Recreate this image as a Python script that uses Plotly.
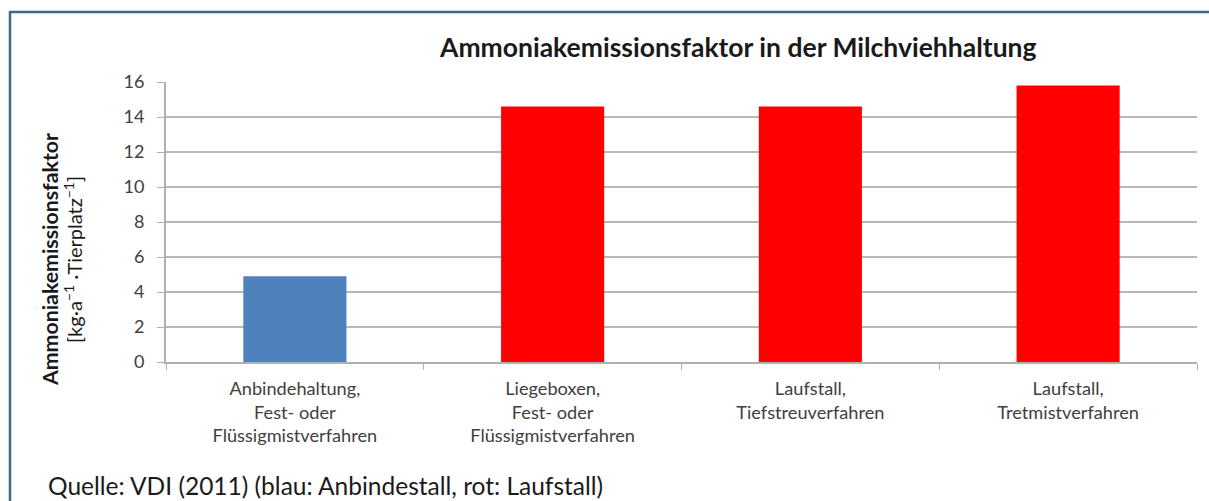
import plotly.graph_objects as go

categories = [
    "Anbindehaltung,<br>Fest- oder<br>Flüssigmistverfahren",
    "Liegeboxen,<br>Fest- oder<br>Flüssigmistverfahren",
    "Laufstall,<br>Tiefstreuverfahren",
    "Laufstall,<br>Tretmistverfahren",
]
values = [4.9, 14.6, 14.6, 15.8]
colors = ["#4f81bd", "#ff0000", "#ff0000", "#ff0000"]
yticks = [0, 2, 4, 6, 8, 10, 12, 14, 16]

FONT = "Lato"
W, H = 1209, 501
L, R, T, B = 166, 12, 82, 139
pw, ph = W - L - R, H - T - B

def px(x):
    return (x - L) / pw

def py(y):
    return (H - B - y) / ph

fig = go.Figure()
fig.add_trace(go.Bar(
    x=categories, y=values, marker=dict(color=colors, line=dict(width=0)),
    width=0.4, hoverinfo="skip",
))

fig.update_layout(
    width=W, height=H,
    margin=dict(l=L, r=R, t=T, b=B),
    paper_bgcolor="white", plot_bgcolor="white",
    showlegend=False,
    font=dict(family=FONT, color="#404040", size=18),
    xaxis=dict(
        type="category", tickson="boundaries", ticks="outside", ticklen=6,
        tickcolor="#b0b0b0", showline=True, linecolor="#b0b0b0", linewidth=2,
        showgrid=False, tickfont=dict(size=18.2, color="#404040"),
        ticklabelstandoff=9,
    ),
    yaxis=dict(
        range=[0, 16], tickvals=yticks, ticks="outside", ticklen=7,
        tickcolor="#b0b0b0", showline=True, linecolor="#b0b0b0", linewidth=2,
        showgrid=True, gridcolor="#b8b8b8", gridwidth=1.5,
        tickfont=dict(size=18, color="#404040"), zeroline=False,
        ticklabelstandoff=9,
    ),
)

fig.add_annotation(
    text="<b>Ammoniakemissionsfaktor in der Milchviehhaltung</b>",
    x=px(738), y=py(47), xref="paper", yref="paper",
    showarrow=False, font=dict(size=26.5, color="#1a1a1a"),
    xanchor="center", yanchor="middle",
)
fig.add_annotation(
    text="<b>Ammoniakemissionsfaktor</b>",
    x=px(50), y=py(260), xref="paper", yref="paper", textangle=-90,
    showarrow=False, font=dict(size=21.3, color="#1a1a1a"),
    xanchor="center", yanchor="middle",
)
fig.add_annotation(
    text="[kg·a<sup>−1</sup> ·Tierplatz<sup>−1</sup>]",
    x=px(73), y=py(260), xref="paper", yref="paper", textangle=-90,
    showarrow=False, font=dict(size=20, color="#1a1a1a"),
    xanchor="center", yanchor="middle",
)
fig.add_annotation(
    text="Quelle: VDI (2011) (blau: Anbindestall, rot: Laufstall)",
    x=px(46), y=py(485), xref="paper", yref="paper",
    showarrow=False, font=dict(size=24.5, color="#1a1a1a"),
    xanchor="left", yanchor="middle",
)

border = "#3e6884"
fig.add_shape(type="line", xref="paper", yref="paper",
              x0=px(9), x1=px(1215), y0=py(12), y1=py(12),
              line=dict(color=border, width=2.5))
fig.add_shape(type="line", xref="paper", yref="paper",
              x0=px(10), x1=px(10), y0=py(11), y1=py(505),
              line=dict(color=border, width=2.5))

fig.write_html(
    "out.html",
    config={"displayModeBar": False},
    post_script="document.body.style.margin='0';document.body.style.overflow='hidden';",
)
